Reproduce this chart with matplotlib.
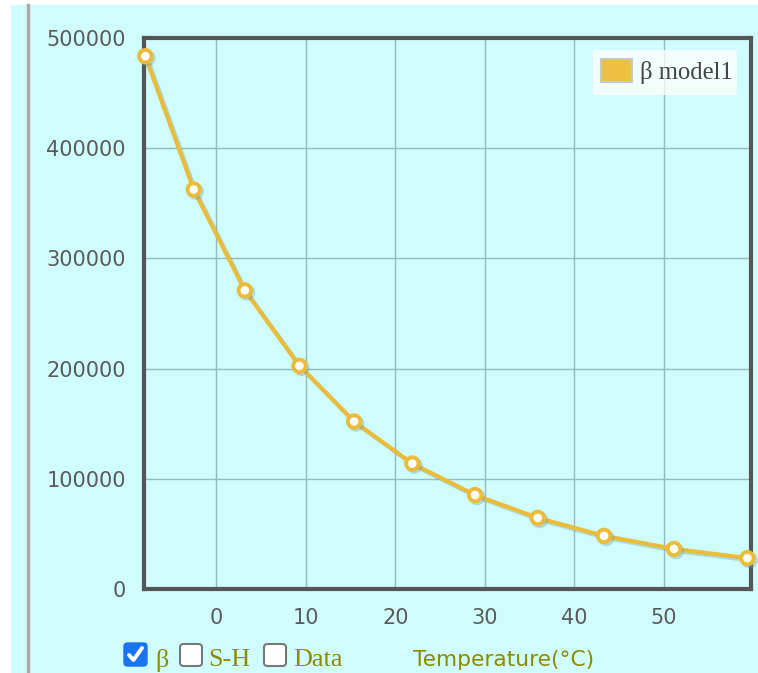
import matplotlib
matplotlib.use("Agg")
import matplotlib.pyplot as plt
from matplotlib.patches import Rectangle, FancyBboxPatch
from matplotlib.lines import Line2D
import matplotlib.patheffects as pe

# Data
temps = [-7.9, -2.5, 3.2, 9.3, 15.4, 21.9, 28.9, 35.9, 43.3, 51.1, 59.3]
beta_vals = [483500, 362500, 271000, 202500, 152000, 113800, 85300, 64500, 48200, 36400, 28000]
x_ticks = [0, 10, 20, 30, 40, 50]
y_ticks = [0, 100000, 200000, 300000, 400000, 500000]
series_label = "β model1"
x_label = "Temperature(°C)"
checkbox_labels = ["β", "S-H", "Data"]
checkbox_states = [True, False, False]

BG = "#cffdfd"
LINE = "#ebbb3a"
OLIVE = "#8f8800"

W, H = 758, 673
fig = plt.figure(figsize=(W / 100, H / 100), dpi=100)
fig.patch.set_facecolor("white")

def fx(px):
    return px / W

def fy(py):
    return 1 - py / H

# cyan page background
fig.patches.append(Rectangle((fx(11), 0), 1 - fx(11), fy(5), transform=fig.transFigure,
                             facecolor=BG, edgecolor="none", zorder=0))
# left vertical line
fig.add_artist(Line2D([fx(27.5), fx(27.5)], [0, fy(5)], transform=fig.transFigure,
                      color="#b3a6aa", lw=2.5, zorder=1))

ax = fig.add_axes([fx(144), fy(589), fx(751) - fx(144), fy(38) - fy(589)])
ax.set_zorder(2)
ax.set_facecolor(BG)
ax.plot(temps, beta_vals, color=LINE, lw=3, marker="o", ms=9, mfc="white", mec=LINE, mew=2.8,
        zorder=3, clip_on=False,
        path_effects=[pe.SimpleLineShadow(offset=(1.5, -1.5), shadow_color="#6a9a9a", alpha=0.35), pe.Normal()])
ax.set_xlim(-8.05, 59.7)
ax.set_ylim(0, 500000)
ax.set_xticks(x_ticks)
ax.set_yticks(y_ticks)
ax.set_xticklabels([str(t) for t in x_ticks])
ax.set_yticklabels([str(t) for t in y_ticks])
ax.tick_params(length=0, labelsize=15, labelcolor="#5a5a5a")
ax.tick_params(axis="x", pad=14)
ax.tick_params(axis="y", pad=13)
ax.grid(True, color="#94baba", lw=1)
ax.set_axisbelow(True)
for s in ax.spines.values():
    s.set_color("#555555")
    s.set_linewidth(3)

# legend box
fig.patches.append(Rectangle((fx(593), fy(95)), fx(737) - fx(593), fy(50) - fy(95), transform=fig.transFigure,
                             facecolor="white", edgecolor="none", alpha=0.75, zorder=5))
fig.patches.append(Rectangle((fx(601), fy(82)), fx(632) - fx(601), fy(59) - fy(82), transform=fig.transFigure,
                             facecolor="#edc040", edgecolor="#c8c8c8", lw=1.5, zorder=6))
fig.text(fx(640), fy(72), series_label, family="Liberation Serif", fontsize=17.7, color="#444444",
         va="center", ha="left", zorder=7)

# checkboxes
box_x = [124, 180, 264]
text_x = [155, 208, 293]
for bx, tx, lab, st in zip(box_x, text_x, checkbox_labels, checkbox_states):
    if st:
        fig.patches.append(FancyBboxPatch((fx(bx), fy(666)), fx(23), 23 / H,
                                          boxstyle="round,pad=0,rounding_size=0.005",
                                          transform=fig.transFigure, facecolor="#1a73f0",
                                          edgecolor="#1a73f0", lw=1, zorder=5))
        fig.add_artist(Line2D([fx(bx + 5), fx(bx + 9.5), fx(bx + 18)],
                              [fy(655), fy(660), fy(648)], transform=fig.transFigure,
                              color="white", lw=2.8, solid_capstyle="round", zorder=6))
    else:
        fig.patches.append(FancyBboxPatch((fx(bx), fy(666)), fx(22), 22 / H,
                                          boxstyle="round,pad=0,rounding_size=0.005",
                                          transform=fig.transFigure, facecolor="white",
                                          edgecolor="#777777", lw=1.5, zorder=5))
    fig.text(fx(tx), fy(660), lab, family="Liberation Serif", fontsize=18.8, color=OLIVE,
             va="center", ha="left")

fig.text(fx(413), fy(660), x_label, family="DejaVu Sans", fontsize=15.7, color=OLIVE,
         va="center", ha="left")

fig.savefig("out.png", dpi=100, facecolor=fig.get_facecolor())
